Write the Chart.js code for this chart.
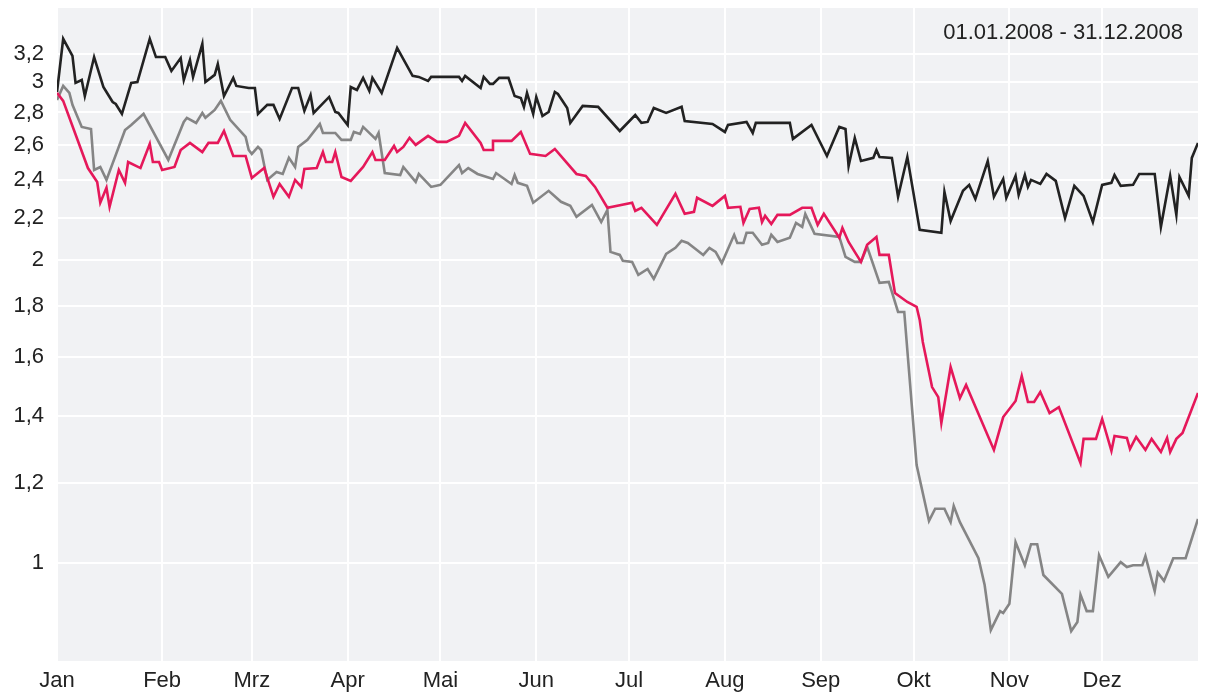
<!DOCTYPE html>
<html>
<head>
<meta charset="utf-8">
<script src="https://cdn.jsdelivr.net/npm/chart.js@4.4.1/dist/chart.umd.min.js"></script>
<style>
  html, body { margin: 0; padding: 0; background: #fff; }
  #wrap { width: 1208px; height: 693px; }
</style>
</head>
<body>
<div id="wrap"><canvas id="chart" width="1208" height="693"></canvas></div>
<script>
// x = day of year 2008 (0 = 1 Jan), the axis starts at the last close of 2007
const monthLabels = ["Jan", "Feb", "Mrz", "Apr", "Mai", "Jun", "Jul", "Aug", "Sep", "Okt", "Nov", "Dez"];
const monthStarts = [-3, 31, 60, 91, 121, 152, 182, 213, 244, 274, 305, 335];
const yTicks = [1, 1.2, 1.4, 1.6, 1.8, 2, 2.2, 2.4, 2.6, 2.8, 3, 3.2];
const periodLabel = "01.01.2008 - 31.12.2008";

const blackDays = [-3, -1, 2, 3, 5, 6, 9, 12, 13, 15, 16, 18, 21, 23, 27, 29, 32, 34, 37, 38,
  40, 41, 44, 45, 48, 49, 51, 54, 55, 59, 61, 62, 65, 67, 69, 73, 75, 77, 79, 80,
  85, 87, 88, 91, 92, 94, 96, 98, 99, 102, 107, 112, 114, 117, 118, 127, 128, 129, 134, 135,
  137, 138, 140, 143, 145, 147, 148, 149, 151, 152, 154, 156, 158, 159, 162, 163, 167, 172, 179, 184,
  186, 188, 190, 194, 199, 200, 209, 213, 214, 220, 222, 223, 234, 235, 241, 246, 250, 252, 253, 255,
  257, 261, 262, 263, 267, 269, 272, 276, 283, 284, 286, 290, 292, 294, 298, 300, 303, 304, 307, 308,
  310, 311, 312, 315, 317, 320, 323, 326, 329, 332, 335, 338, 339, 341, 345, 347, 352, 354, 357, 359,
  360, 363, 364, 366];
const blackValues = [2.934, 3.313, 3.186, 2.996, 3.016, 2.907, 3.178, 2.968, 2.934, 2.868,
  2.855, 2.791, 2.996, 3.002, 3.313, 3.178, 3.178, 3.079, 3.171, 3.016,
  3.157, 3.037, 3.275, 3.002, 3.051, 3.128, 2.907, 3.030, 2.975, 2.961,
  2.961, 2.791, 2.849, 2.849, 2.759, 2.961, 2.961, 2.810, 2.914, 2.797,
  2.901, 2.803, 2.797, 2.721, 2.968, 2.948, 3.030, 2.941, 3.030, 2.928,
  3.245, 3.044, 3.037, 3.009, 3.037, 3.037, 3.009, 3.044, 2.961, 3.037,
  2.989, 2.989, 3.030, 3.030, 2.907, 2.894, 2.836, 2.928, 2.791, 2.901,
  2.778, 2.803, 2.934, 2.921, 2.829, 2.734, 2.842, 2.836, 2.684, 2.784,
  2.734, 2.740, 2.829, 2.797, 2.836, 2.746, 2.727, 2.678, 2.721, 2.740,
  2.672, 2.734, 2.734, 2.636, 2.721, 2.535, 2.709, 2.696, 2.477, 2.642,
  2.506, 2.524, 2.570, 2.529, 2.524, 2.309, 2.529, 2.141, 2.127, 2.335,
  2.185, 2.341, 2.373, 2.298, 2.506, 2.309, 2.405, 2.304, 2.422, 2.319,
  2.427, 2.362, 2.400, 2.378, 2.433, 2.395, 2.200, 2.368, 2.314, 2.180,
  2.373, 2.384, 2.427, 2.368, 2.373, 2.433, 2.433, 2.156, 2.422, 2.216,
  2.416, 2.314, 2.524, 2.612];

const grayDays = [-3, -1, 1, 2, 5, 8, 9, 11, 13, 19, 21, 25, 33, 38, 39, 42, 44, 45, 48, 50,
  53, 58, 59, 60, 62, 63, 65, 68, 70, 72, 74, 75, 78, 82, 83, 87, 89, 92, 93, 95,
  96, 100, 101, 103, 108, 109, 113, 114, 118, 121, 127, 128, 130, 133, 138, 139, 144, 145, 146, 149,
  151, 156, 160, 163, 165, 170, 173, 175, 176, 179, 180, 183, 185, 188, 190, 194, 197, 199, 201, 203,
  206, 208, 210, 212, 216, 217, 219, 220, 222, 225, 227, 228, 230, 234, 236, 238, 239, 242, 250, 252,
  255, 257, 259, 263, 266, 269, 271, 275, 279, 281, 284, 286, 287, 289, 295, 297, 299, 302, 303, 305,
  307, 310, 312, 314, 316, 322, 325, 327, 328, 330, 332, 334, 337, 341, 343, 345, 348, 349, 352, 353,
  355, 358, 362, 366];
const grayValues = [2.881, 2.975, 2.928, 2.849, 2.709, 2.696, 2.455, 2.472, 2.400, 2.690,
  2.721, 2.791, 2.512, 2.740, 2.766, 2.734, 2.797, 2.766, 2.816, 2.875,
  2.753, 2.648, 2.570, 2.547, 2.588, 2.570, 2.400, 2.444, 2.433, 2.524,
  2.472, 2.588, 2.630, 2.727, 2.672, 2.672, 2.630, 2.630, 2.678, 2.666,
  2.709, 2.636, 2.672, 2.438, 2.427, 2.472, 2.389, 2.433, 2.362, 2.373,
  2.483, 2.438, 2.466, 2.433, 2.405, 2.438, 2.378, 2.427, 2.384, 2.368,
  2.278, 2.341, 2.283, 2.262, 2.206, 2.267, 2.180, 2.241, 2.036, 2.022,
  1.995, 1.990, 1.932, 1.958, 1.914, 2.027, 2.055, 2.088, 2.078, 2.055,
  2.022, 2.055, 2.036, 1.985, 2.117, 2.078, 2.078, 2.127, 2.127, 2.069,
  2.078, 2.117, 2.083, 2.103, 2.175, 2.156, 2.221, 2.122, 2.107, 2.013,
  1.990, 1.990, 2.060, 1.897, 1.901, 1.775, 1.775, 1.251, 1.101, 1.132,
  1.132, 1.098, 1.139, 1.098, 1.011, 0.951, 0.858, 0.896, 0.892, 0.911,
  1.049, 0.995, 1.044, 1.044, 0.973, 0.932, 0.856, 0.874, 0.930, 0.896,
  0.896, 1.018, 0.969, 1.002, 0.991, 0.995, 0.995, 1.016, 0.938, 0.978,
  0.960, 1.011, 1.011, 1.106];

const redDays = [-3, -1, 7, 10, 11, 13, 14, 17, 19, 20, 24, 27, 28, 30, 31, 35, 37, 40, 44, 46,
  49, 51, 54, 58, 60, 64, 67, 69, 72, 74, 76, 77, 81, 83, 84, 86, 87, 89, 92, 96,
  99, 100, 103, 106, 107, 109, 111, 113, 117, 120, 123, 127, 129, 134, 135, 138, 138, 144, 147, 150,
  155, 158, 165, 168, 171, 175, 183, 184, 186, 191, 197, 200, 203, 204, 209, 213, 214, 218, 219, 221,
  224, 225, 226, 228, 230, 234, 238, 241, 243, 245, 250, 251, 253, 257, 259, 262, 263, 266, 268, 272,
  275, 276, 277, 280, 282, 283, 286, 289, 291, 300, 303, 307, 309, 311, 313, 315, 318, 321, 328, 329,
  333, 335, 338, 339, 343, 344, 346, 349, 351, 354, 356, 357, 359, 361, 366];
const redValues = [2.928, 2.875, 2.466, 2.389, 2.278, 2.357, 2.257, 2.455, 2.384, 2.500,
  2.466, 2.606, 2.500, 2.500, 2.455, 2.472, 2.570, 2.612, 2.558, 2.612,
  2.612, 2.684, 2.535, 2.535, 2.411, 2.466, 2.309, 2.378, 2.309, 2.400,
  2.362, 2.461, 2.466, 2.558, 2.500, 2.500, 2.558, 2.416, 2.395, 2.472,
  2.558, 2.512, 2.512, 2.594, 2.558, 2.588, 2.642, 2.600, 2.654, 2.618,
  2.618, 2.654, 2.734, 2.612, 2.570, 2.570, 2.624, 2.624, 2.678, 2.547,
  2.535, 2.576, 2.433, 2.422, 2.362, 2.252, 2.278, 2.236, 2.252, 2.166,
  2.325, 2.221, 2.231, 2.304, 2.262, 2.314, 2.252, 2.257, 2.175, 2.246,
  2.252, 2.180, 2.211, 2.170, 2.216, 2.216, 2.252, 2.252, 2.166, 2.221,
  2.103, 2.151, 2.083, 1.990, 2.069, 2.107, 2.022, 2.022, 1.853, 1.816,
  1.796, 1.743, 1.657, 1.495, 1.461, 1.377, 1.565, 1.458, 1.502, 1.295,
  1.396, 1.448, 1.533, 1.445, 1.445, 1.478, 1.409, 1.428, 1.257, 1.328,
  1.328, 1.390, 1.292, 1.337, 1.331, 1.298, 1.334, 1.295, 1.328, 1.289,
  1.331, 1.289, 1.328, 1.346, 1.475];

const FONT = "'Liberation Sans', Arial, sans-serif";
const TEXT = "#222222";

const toPoints = (days, values) => days.map((d, i) => ({ x: d, y: values[i] }));

// grey plot area behind the white grid
const plotBackground = {
    id: "plotBackground",
    beforeDraw(chart) {
        const { ctx, chartArea: a } = chart;
        ctx.save();
        ctx.fillStyle = "#f1f2f4";
        ctx.fillRect(a.left, a.top, a.right - a.left, a.bottom - a.top);
        ctx.restore();
    }
};

// date range in the top right corner
const periodText = {
    id: "periodText",
    afterDatasetsDraw(chart) {
        const { ctx, chartArea: a } = chart;
        ctx.save();
        ctx.font = "22px " + FONT;
        ctx.fillStyle = TEXT;
        ctx.textAlign = "right";
        ctx.textBaseline = "middle";
        ctx.fillText(periodLabel, a.right - 15, 33);
        ctx.restore();
    }
};

const line = (data, color) => ({
    data,
    borderColor: color,
    borderWidth: 2.6,
    pointRadius: 0,
    tension: 0,
    fill: false
});

new Chart(document.getElementById("chart"), {
    type: "line",
    data: {
        datasets: [
            line(toPoints(redDays, redValues), "#e5185a"),
            line(toPoints(blackDays, blackValues), "#222222"),
            line(toPoints(grayDays, grayValues), "#858585")
        ]
    },
    options: {
        responsive: false,
        animation: false,
        layout: { padding: { top: 8, right: 10, left: 0, bottom: 0 } },
        plugins: {
            legend: { display: false },
            tooltip: { enabled: false }
        },
        scales: {
            x: {
                type: "linear",
                min: -3,
                max: 366,
                afterBuildTicks: (scale) => {
                    scale.ticks = monthStarts.map(v => ({ value: v }));
                },
                afterFit: (scale) => {
                    scale.height = 32;
                    scale.paddingLeft = 0;
                    scale.paddingRight = 0;
                },
                border: { display: false },
                grid: { color: "#ffffff", lineWidth: 2, drawTicks: false },
                ticks: {
                    autoSkip: false,
                    maxRotation: 0,
                    padding: 7,
                    color: TEXT,
                    font: { family: FONT, size: 22 },
                    callback: (v, i) => monthLabels[i]
                }
            },
            y: {
                type: "logarithmic",
                min: 0.7994,
                max: 3.555,
                afterBuildTicks: (scale) => {
                    scale.ticks = yTicks.map(v => ({ value: v }));
                },
                afterFit: (scale) => {
                    scale.width = 57;
                    scale.paddingTop = 0;
                    scale.paddingBottom = 0;
                },
                border: { display: false },
                grid: { color: "#ffffff", lineWidth: 2, drawTicks: false },
                ticks: {
                    autoSkip: false,
                    padding: 13,
                    color: TEXT,
                    font: { family: FONT, size: 22 },
                    callback: (v) => String(v).replace(".", ",")
                }
            }
        }
    },
    plugins: [plotBackground, periodText]
});
</script>
</body>
</html>
